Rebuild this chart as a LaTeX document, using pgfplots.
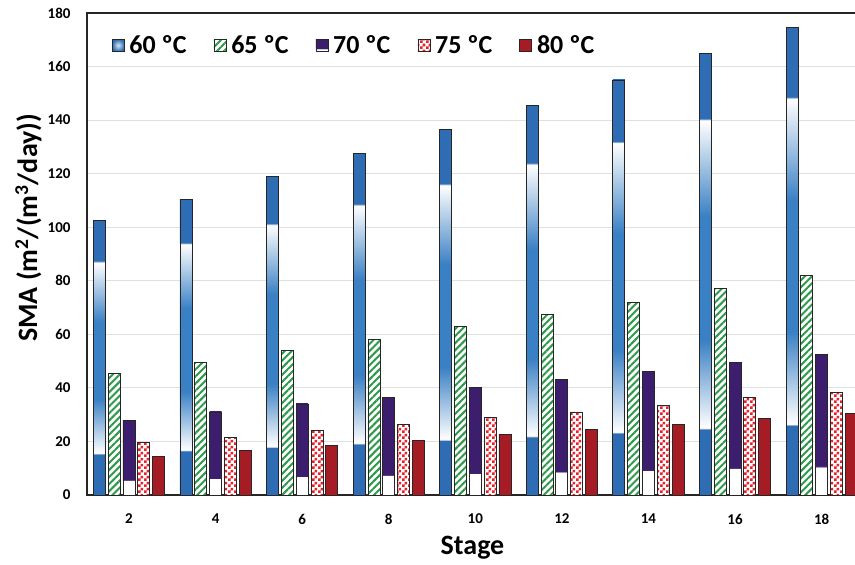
\documentclass[border=0pt]{standalone}
\usepackage{pgfplots}
\pgfplotsset{compat=1.18}
\usepackage{pgfplotstable}
\usepackage{fontspec}
\setmainfont{Carlito}
\usetikzlibrary{patterns.meta}

\definecolor{smablue}{HTML}{2E6DB4}
\definecolor{smamid}{HTML}{3A80C4}
\definecolor{smapurple}{HTML}{3C1D6E}
\definecolor{smared}{HTML}{E8202A}
\definecolor{smadark}{HTML}{A51C24}
\definecolor{smagreen}{HTML}{2C9A48}

% 60 C bars: solid bands at both ends, white-blue-white fade in between
\pgfdeclareverticalshading{sixty}{100bp}{color(0bp)=(smablue); color(32.4bp)=(smablue); color(32.6bp)=(white); color(42.5bp)=(smamid); color(56.5bp)=(smamid); color(67.4bp)=(white); color(67.6bp)=(smablue); color(100bp)=(smablue)}
% 70 C bars: white foot, purple body
\pgfdeclareverticalshading{seventy}{100bp}{color(0bp)=(white); color(34.9bp)=(white); color(35.1bp)=(smapurple); color(100bp)=(smapurple)}

% checkerboard tile for the 75 C bars
\pgfdeclarepattern{
  name=smacheck, type=uncolored,
  bottom left={\pgfpointorigin}, top right={\pgfpoint{6pt}{6pt}},
  tile size={\pgfpoint{6pt}{6pt}},
  code={
    \pgfpathrectangle{\pgfpointorigin}{\pgfpoint{3pt}{3pt}}
    \pgfpathrectangle{\pgfpoint{3pt}{3pt}}{\pgfpoint{3pt}{3pt}}
    \pgfusepath{fill}
  }
}

\pgfplotsset{
  bar60/.style={shade, shading=sixty, bar shift=-29.6pt},
  bar65/.style={fill=white, postaction={pattern={Lines[angle=45, distance=5pt, line width=2pt]}, pattern color=smagreen}, bar shift=-14.8pt},
  bar70/.style={shade, shading=seventy, bar shift=0pt},
  bar75/.style={fill=white, postaction={pattern=smacheck, pattern color=smared}, bar shift=14.8pt},
  bar80/.style={fill=smadark, bar shift=29.6pt},
}

\pgfplotstableread{
stage a60   a65  a70  a75  a80
2     102.5 45.5 28.0 19.5 14.5
4     110.5 49.5 31.0 21.5 16.5
6     119.0 54.0 34.0 24.0 18.5
8     127.5 58.0 36.5 26.5 20.5
10    136.5 63.0 40.0 29.0 22.5
12    145.5 67.5 43.0 31.0 24.5
14    155.0 72.0 46.0 33.5 26.5
16    165.0 77.0 49.5 36.5 28.5
18    174.5 82.0 52.5 38.5 30.5
}\smadata

\begin{document}
\begin{tikzpicture}
\begin{axis}[
  scale only axis, width=771pt, height=482pt,
  xmin=1.03, xmax=18.84, ymin=0, ymax=180,
  ybar, bar width=12pt,
  xtick={2,4,...,18}, ytick={0,20,...,180},
  ymajorgrids, grid style={draw=black!12, line width=1pt},
  axis line style={line width=1.3pt, black!85},
  tick style={draw=none},
  ticklabel style={font=\fontsize{15}{17}\selectfont\bfseries},
  /pgf/number format/assume math mode=true,
  yticklabel shift=13pt,
  xticklabel shift=11pt,
  xlabel={Stage},
  xlabel style={font=\fontsize{28}{32}\selectfont\bfseries, at={(axis description cs:0.5,-0.11)}, anchor=center},
  ylabel={SMA (m\textsuperscript{2}/(m\textsuperscript{3}/day))},
  ylabel style={font=\fontsize{28}{32}\selectfont\bfseries, at={(axis description cs:-0.076,0.554)}, anchor=center},
  legend image code/.code={\draw[#1, line width=0.6pt] (0pt,-6pt) rectangle (12pt,6pt);},
  legend style={at={(axis description cs:0.028,0.962)}, anchor=north west, draw=none, fill=none,
    font=\fontsize{26}{30}\selectfont\bfseries, legend columns=-1,
    /tikz/every odd column/.append style={column sep=3pt},
    /tikz/every even column/.append style={column sep=25pt}},
  every axis plot/.append style={draw=black!85, line width=0.8pt},
]
% one path per bar, so each shading spans its own bar
\pgfplotsinvokeforeach{2,4,...,18}{
  \addplot[forget plot, bar60, restrict x to domain=#1:#1] table[x=stage, y=a60] {\smadata};
  \addplot[forget plot, bar70, restrict x to domain=#1:#1] table[x=stage, y=a70] {\smadata};
}
\addplot[forget plot, bar65] table[x=stage, y=a65] {\smadata};
\addplot[forget plot, bar75] table[x=stage, y=a75] {\smadata};
\addplot[forget plot, bar80] table[x=stage, y=a80] {\smadata};

\addlegendimage{draw=black!85, inner color=smamid!20, outer color=smablue}
\addlegendimage{bar65}
\addlegendimage{bar70}
\addlegendimage{bar75}
\addlegendimage{bar80}
\legend{60 ºC, 65 ºC, 70 ºC, 75 ºC, 80 ºC}
\coordinate (bl) at (rel axis cs:0,0);
\coordinate (tr) at (rel axis cs:1,1);
\end{axis}
\pgfresetboundingbox
\path[use as bounding box] ([shift={(-87pt,-70pt)}]bl) rectangle ([shift={(-3pt,13pt)}]tr);
\end{tikzpicture}
\end{document}
